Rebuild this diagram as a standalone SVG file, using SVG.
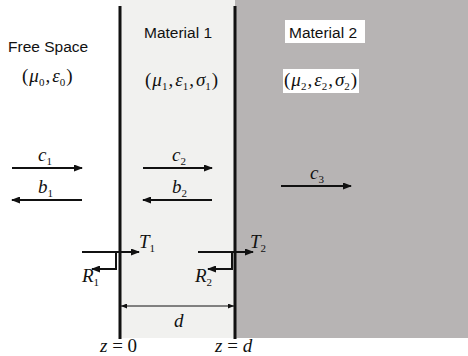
<svg xmlns="http://www.w3.org/2000/svg" width="468" height="356" viewBox="0 0 468 356">
<defs>
<marker id="ah" markerWidth="9" markerHeight="7" refX="8" refY="3.5" orient="auto" markerUnits="userSpaceOnUse"><path d="M0,0 L9,3.5 L0,7 Z" fill="#111"/></marker>
<marker id="sh" markerWidth="6" markerHeight="5" refX="6" refY="2.5" orient="auto-start-reverse" markerUnits="userSpaceOnUse"><path d="M0,0 L6,2.5 L0,5 Z" fill="#111"/></marker>
</defs>
<style>
.lbl{font-family:"Liberation Sans",Arial,sans-serif;font-size:15.5px;fill:#111}
.m{font-family:"Liberation Serif","Times New Roman",serif;font-style:italic;font-size:19px;fill:#111}
.s{font-family:"Liberation Serif","Times New Roman",serif;font-style:normal;font-size:11px}
.up{font-family:"Liberation Serif","Times New Roman",serif;font-style:normal;font-size:19px;fill:#111}
.ar{stroke:#111;stroke-width:2;fill:none;marker-end:url(#ah)}
.wall{stroke:#111;stroke-width:3}
</style>
<rect width="468" height="356" fill="#fff"/>
<rect id="material1-bg" x="120" y="0" width="115" height="338" fill="#f1f1ef"/>
<rect id="material2-bg" x="235" y="0" width="233" height="338" fill="#b7b4b4"/>
<g id="walls">
<line class="wall" x1="120" y1="6" x2="120" y2="339"/>
<line class="wall" x1="235" y1="6" x2="235" y2="339"/>
</g>
<g id="free-space">
<text class="lbl" x="8" y="52">Free Space</text>
<text class="m" x="22" y="82"><tspan class="up">(</tspan><tspan dx="1">μ</tspan><tspan class="s" dy="4">0</tspan><tspan class="up" dy="-4" dx="1">,</tspan><tspan dx="2">ε</tspan><tspan class="s" dy="4">0</tspan><tspan class="up" dy="-4" dx="1">)</tspan></text>
</g>
<g id="material1">
<text class="lbl" x="144" y="38">Material 1</text>
<text class="m" x="145" y="86"><tspan class="up">(</tspan><tspan dx="1">μ</tspan><tspan class="s" dy="4">1</tspan><tspan class="up" dy="-4" dx="1">,</tspan><tspan dx="2">ε</tspan><tspan class="s" dy="4">1</tspan><tspan class="up" dy="-4" dx="1">,</tspan><tspan dx="2">σ</tspan><tspan class="s" dy="4">1</tspan><tspan class="up" dy="-4" dx="1">)</tspan></text>
</g>
<g id="material2">
<rect x="285" y="20" width="80" height="23" fill="#fff"/>
<text class="lbl" x="289" y="38">Material 2</text>
<rect x="283" y="69" width="76" height="24" fill="#fff"/>
<text class="m" x="284" y="86"><tspan class="up">(</tspan><tspan dx="1">μ</tspan><tspan class="s" dy="4">2</tspan><tspan class="up" dy="-4" dx="1">,</tspan><tspan dx="2">ε</tspan><tspan class="s" dy="4">2</tspan><tspan class="up" dy="-4" dx="1">,</tspan><tspan dx="2">σ</tspan><tspan class="s" dy="4">2</tspan><tspan class="up" dy="-4" dx="1">)</tspan></text>
</g>
<g id="connectors">
<line class="ar" x1="12" y1="168" x2="82" y2="168"/>
<line class="ar" x1="82" y1="200" x2="12" y2="200"/>
<line class="ar" x1="143" y1="168" x2="212" y2="168"/>
<line class="ar" x1="212" y1="200" x2="143" y2="200"/>
<line class="ar" x1="281" y1="186" x2="351" y2="186"/>
<line class="ar" x1="82" y1="252" x2="139" y2="252"/>
<polyline class="ar" points="116,252 116,269 92,269"/>
<line class="ar" x1="198" y1="252" x2="253" y2="252"/>
<polyline class="ar" points="232,252 232,269 208,269"/>
<line x1="121" y1="306" x2="234" y2="306" stroke="#111" stroke-width="1" marker-start="url(#sh)" marker-end="url(#sh)"/>
</g>
<g id="labels">
<text class="m" x="38" y="161">c<tspan class="s" dy="4">1</tspan></text>
<text class="m" x="38" y="193">b<tspan class="s" dy="4">1</tspan></text>
<text class="m" x="172" y="161">c<tspan class="s" dy="4">2</tspan></text>
<text class="m" x="172" y="193">b<tspan class="s" dy="4">2</tspan></text>
<text class="m" x="310" y="179">c<tspan class="s" dy="4">3</tspan></text>
<text class="m" x="139" y="248">T<tspan class="s" dy="4">1</tspan></text>
<text class="m" x="82" y="282">R<tspan class="s" dy="4">1</tspan></text>
<text class="m" x="250" y="248">T<tspan class="s" dy="4">2</tspan></text>
<text class="m" x="195" y="282">R<tspan class="s" dy="4">2</tspan></text>
<text class="m" x="174" y="327">d</text>
<text class="m" x="100" y="352">z <tspan class="up">= 0</tspan></text>
<text class="m" x="215" y="352">z <tspan class="up">=</tspan> d</text>
</g>
</svg>
